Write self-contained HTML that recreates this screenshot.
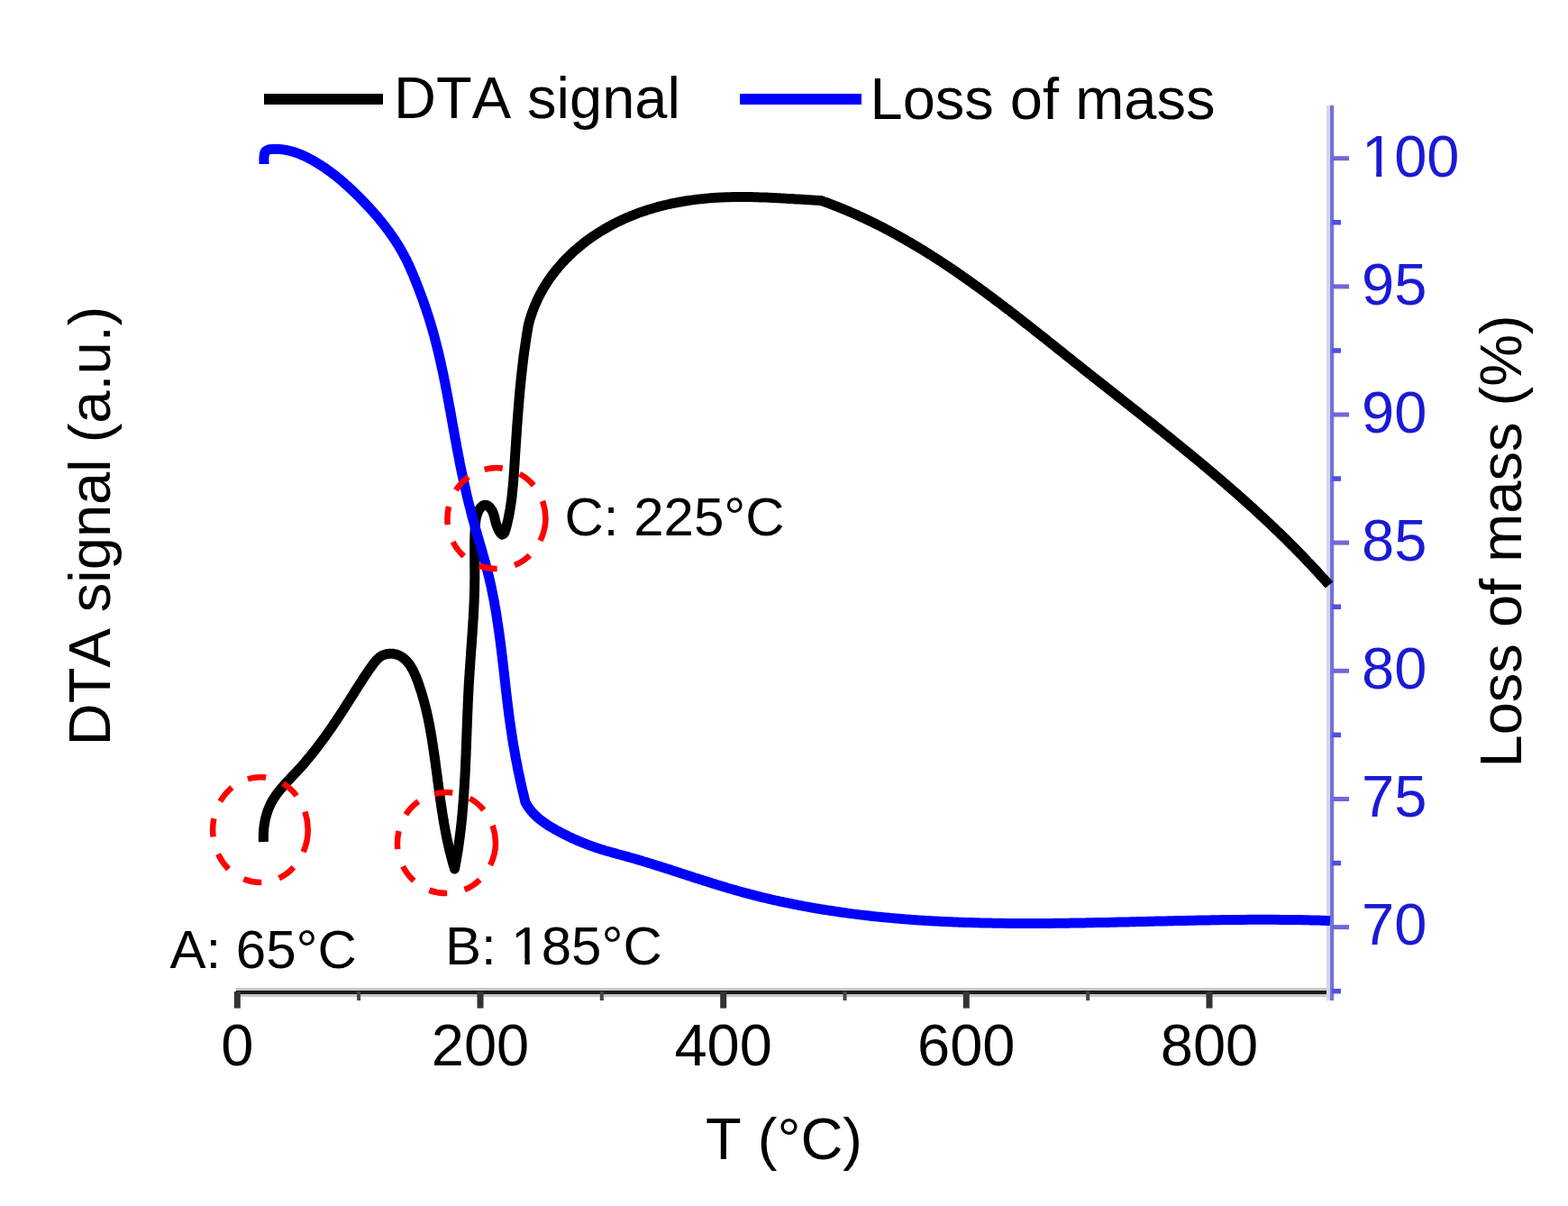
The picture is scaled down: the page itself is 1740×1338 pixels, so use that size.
<!DOCTYPE html><html><head><meta charset="utf-8"><style>html,body{margin:0;padding:0;background:#fff;}svg{display:block;} text{font-kerning:none;}</style></head><body>
<svg width="1740" height="1338" viewBox="0 0 1740 1338" font-family="'Liberation Sans', sans-serif">
<rect width="100%" height="100%" fill="#fff"/>
<rect x="293" y="104" width="132" height="12" fill="#000"/>
<text x="437" y="131.4" font-size="65" fill="#000">DTA signal</text>
<rect x="821" y="104" width="135" height="12" fill="#00f"/>
<text x="965.5" y="131.5" font-size="65" fill="#000">Loss of mass</text>
<rect x="262" y="1096" width="1216" height="10" fill="#c8c8c8"/>
<rect x="262" y="1099" width="1216" height="4" fill="#1c1c1c"/>
<rect x="259.8" y="1100" width="7" height="18.6" fill="#333"/>
<text x="263.3" y="1182" font-size="65" text-anchor="middle" fill="#000">0</text>
<rect x="396.1" y="1100" width="4" height="10" fill="#444"/>
<rect x="529.5" y="1100" width="7" height="18.6" fill="#333"/>
<text x="533.0" y="1182" font-size="65" text-anchor="middle" fill="#000">200</text>
<rect x="665.8" y="1100" width="4" height="10" fill="#444"/>
<rect x="799.2" y="1100" width="7" height="18.6" fill="#333"/>
<text x="802.7" y="1182" font-size="65" text-anchor="middle" fill="#000">400</text>
<rect x="935.5" y="1100" width="4" height="10" fill="#444"/>
<rect x="1068.8" y="1100" width="7" height="18.6" fill="#333"/>
<text x="1072.3" y="1182" font-size="65" text-anchor="middle" fill="#000">600</text>
<rect x="1205.2" y="1100" width="4" height="10" fill="#444"/>
<rect x="1338.5" y="1100" width="7" height="18.6" fill="#333"/>
<text x="1342.0" y="1182" font-size="65" text-anchor="middle" fill="#000">800</text>
<rect x="1472" y="117" width="4" height="993" fill="#d4d4f6"/>
<rect x="1476" y="117" width="4.2" height="993" fill="#7373d3"/>
<rect x="1478" y="173.2" width="19" height="5" fill="#6f66dc"/>
<text x="1511" y="195.5" font-size="65" fill="#1a1ad6">100</text>
<rect x="1514.50" y="188.50" width="12.70" height="9.00" fill="#fff"/><rect x="1533.20" y="188.50" width="11.50" height="9.00" fill="#fff"/>
<rect x="1478" y="244.0" width="10" height="5.5" fill="#5050e0"/>
<rect x="1478" y="315.4" width="19" height="5" fill="#6f66dc"/>
<text x="1511" y="337.7" font-size="65" fill="#1a1ad6">95</text>

<rect x="1478" y="386.2" width="10" height="5.5" fill="#5050e0"/>
<rect x="1478" y="457.5" width="19" height="5" fill="#6f66dc"/>
<text x="1511" y="479.8" font-size="65" fill="#1a1ad6">90</text>

<rect x="1478" y="528.3" width="10" height="5.5" fill="#5050e0"/>
<rect x="1478" y="599.6" width="19" height="5" fill="#6f66dc"/>
<text x="1511" y="621.9" font-size="65" fill="#1a1ad6">85</text>

<rect x="1478" y="670.5" width="10" height="5.5" fill="#5050e0"/>
<rect x="1478" y="741.8" width="19" height="5" fill="#6f66dc"/>
<text x="1511" y="764.1" font-size="65" fill="#1a1ad6">80</text>

<rect x="1478" y="812.6" width="10" height="5.5" fill="#5050e0"/>
<rect x="1478" y="884.0" width="19" height="5" fill="#6f66dc"/>
<text x="1511" y="906.2" font-size="65" fill="#1a1ad6">75</text>

<rect x="1478" y="954.8" width="10" height="5.5" fill="#5050e0"/>
<rect x="1478" y="1026.1" width="19" height="5" fill="#6f66dc"/>
<text x="1511" y="1048.4" font-size="65" fill="#1a1ad6">70</text>

<rect x="1478" y="1096.9" width="10" height="5.5" fill="#5050e0"/>
<text x="870" y="1286" font-size="65" text-anchor="middle" fill="#000">T (°C)</text>
<text transform="translate(121.5,583.4) rotate(-90)" font-size="65" text-anchor="middle" fill="#000">DTA signal (a.u.)</text>
<text transform="translate(1687.5,600.4) rotate(-90)" font-size="65" text-anchor="middle" fill="#000">Loss of mass (%)</text>
<text x="188.5" y="1074" font-size="60" fill="#000">A: 65°C</text>
<text x="494" y="1070.3" font-size="60" fill="#000">B: 185°C</text>
<rect x="570.59" y="1063.84" width="11.72" height="8.31" fill="#fff"/><rect x="587.85" y="1063.84" width="10.62" height="8.31" fill="#fff"/>
<text x="626.5" y="594.4" font-size="60" fill="#000">C: 225°C</text>
<path d="M292.5,934.0 L292.4,932.0 L292.3,930.0 L292.3,928.0 L292.4,926.0 L292.4,924.0 L292.6,922.0 L292.7,920.0 L292.9,918.0 L293.2,916.0 L293.4,914.1 L293.8,912.1 L294.2,910.1 L294.6,908.2 L295.1,906.2 L295.6,904.3 L296.2,902.4 L296.8,900.5 L297.5,898.6 L298.2,896.7 L299.0,894.9 L299.8,893.1 L300.7,891.3 L301.6,889.5 L302.6,887.8 L303.7,886.1 L304.8,884.4 L305.9,882.7 L307.0,881.1 L308.2,879.5 L309.5,877.9 L310.7,876.4 L312.0,874.8 L313.3,873.3 L314.6,871.8 L315.9,870.3 L317.3,868.8 L318.6,867.3 L320.0,865.9 L321.4,864.4 L322.7,863.0 L324.1,861.5 L325.5,860.1 L326.9,858.6 L328.2,857.2 L329.6,855.7 L331.0,854.2 L332.3,852.8 L333.7,851.3 L335.0,849.8 L336.3,848.3 L337.6,846.8 L338.9,845.3 L340.2,843.7 L341.5,842.2 L342.8,840.7 L344.1,839.1 L345.3,837.6 L346.6,836.0 L347.8,834.4 L349.1,832.9 L350.3,831.3 L351.5,829.7 L352.7,828.1 L353.9,826.5 L355.1,824.9 L356.3,823.3 L357.5,821.7 L358.7,820.1 L359.9,818.5 L361.1,816.9 L362.2,815.2 L363.4,813.6 L364.5,812.0 L365.7,810.3 L366.8,808.7 L368.0,807.1 L369.1,805.4 L370.2,803.7 L371.3,802.1 L372.5,800.4 L373.6,798.8 L374.7,797.1 L375.8,795.4 L376.9,793.8 L378.0,792.1 L379.1,790.4 L380.2,788.7 L381.2,787.1 L382.3,785.4 L383.4,783.7 L384.5,782.0 L385.6,780.3 L386.6,778.6 L387.7,777.0 L388.8,775.3 L389.9,773.6 L390.9,771.9 L392.0,770.2 L393.1,768.5 L394.1,766.8 L395.2,765.1 L396.3,763.4 L397.3,761.7 L398.4,760.1 L399.5,758.4 L400.6,756.7 L401.7,755.0 L402.7,753.3 L403.8,751.7 L404.9,750.0 L406.1,748.3 L407.2,746.7 L408.3,745.0 L409.4,743.4 L410.6,741.7 L411.8,740.1 L412.9,738.5 L414.1,736.9 L415.3,735.3 L416.6,733.7 L417.9,732.2 L419.3,730.8 L420.8,729.5 L422.5,728.3 L424.2,727.3 L426.0,726.5 L427.9,725.9 L429.9,725.5 L431.9,725.3 L433.9,725.2 L435.9,725.3 L437.8,725.6 L439.8,726.1 L441.7,726.7 L443.5,727.5 L445.3,728.5 L447.0,729.6 L448.5,730.8 L450.0,732.1 L451.4,733.5 L452.7,735.1 L454.0,736.6 L455.1,738.3 L456.2,740.0 L457.2,741.7 L458.2,743.4 L459.1,745.2 L459.9,747.0 L460.7,748.9 L461.5,750.7 L462.2,752.6 L463.0,754.4 L463.7,756.3 L464.3,758.2 L465.0,760.1 L465.6,762.0 L466.2,763.9 L466.9,765.8 L467.5,767.7 L468.1,769.6 L468.6,771.5 L469.2,773.4 L469.7,775.4 L470.3,777.3 L470.8,779.2 L471.3,781.2 L471.8,783.1 L472.3,785.0 L472.8,787.0 L473.2,788.9 L473.7,790.9 L474.1,792.8 L474.6,794.8 L475.0,796.7 L475.4,798.7 L475.8,800.6 L476.2,802.6 L476.6,804.6 L476.9,806.5 L477.3,808.5 L477.6,810.5 L478.0,812.4 L478.3,814.4 L478.7,816.4 L479.0,818.4 L479.3,820.3 L479.6,822.3 L479.9,824.3 L480.2,826.3 L480.6,828.2 L480.8,830.2 L481.1,832.2 L481.4,834.2 L481.7,836.2 L482.0,838.1 L482.3,840.1 L482.6,842.1 L482.8,844.1 L483.1,846.1 L483.4,848.0 L483.6,850.0 L483.9,852.0 L484.2,854.0 L484.4,856.0 L484.7,858.0 L485.0,859.9 L485.2,861.9 L485.5,863.9 L485.7,865.9 L486.0,867.9 L486.3,869.9 L486.5,871.8 L486.8,873.8 L487.1,875.8 L487.3,877.8 L487.6,879.8 L487.9,881.7 L488.2,883.7 L488.4,885.7 L488.7,887.7 L489.0,889.7 L489.3,891.6 L489.6,893.6 L489.9,895.6 L490.2,897.6 L490.5,899.6 L490.8,901.5 L491.1,903.5 L491.4,905.5 L491.7,907.5 L492.1,909.4 L492.4,911.4 L492.7,913.4 L493.1,915.3 L493.4,917.3 L493.8,919.3 L494.2,921.3 L494.5,923.2 L494.9,925.2 L495.3,927.1 L495.7,929.1 L496.1,931.1 L496.5,933.0 L496.9,935.0 L497.4,936.9 L497.8,938.9 L498.3,940.8 L498.7,942.8 L499.2,944.7 L499.7,946.7 L500.2,948.6 L500.7,950.5 L501.2,952.5 L501.7,954.4 L502.2,956.3 L502.8,958.3 L503.3,960.2 L503.9,962.1 L504.5,964.0 L504.9,962.0 L505.3,960.1 L505.6,958.1 L506.0,956.1 L506.3,954.2 L506.7,952.2 L507.0,950.2 L507.3,948.2 L507.7,946.2 L508.0,944.3 L508.3,942.3 L508.6,940.3 L508.9,938.3 L509.2,936.3 L509.4,934.4 L509.7,932.4 L510.0,930.4 L510.2,928.4 L510.5,926.4 L510.7,924.4 L511.0,922.4 L511.2,920.4 L511.4,918.5 L511.6,916.5 L511.9,914.5 L512.1,912.5 L512.3,910.5 L512.5,908.5 L512.7,906.5 L512.9,904.5 L513.1,902.5 L513.2,900.5 L513.4,898.5 L513.6,896.5 L513.7,894.5 L513.9,892.5 L514.1,890.5 L514.2,888.5 L514.4,886.5 L514.5,884.5 L514.6,882.5 L514.8,880.5 L514.9,878.5 L515.0,876.5 L515.2,874.5 L515.3,872.5 L515.4,870.5 L515.5,868.5 L515.6,866.5 L515.8,864.5 L515.9,862.5 L516.0,860.5 L516.1,858.5 L516.2,856.5 L516.3,854.5 L516.4,852.5 L516.5,850.5 L516.5,848.5 L516.6,846.5 L516.7,844.5 L516.8,842.5 L516.9,840.5 L517.0,838.5 L517.1,836.5 L517.1,834.5 L517.2,832.5 L517.3,830.5 L517.4,828.5 L517.4,826.5 L517.5,824.5 L517.6,822.5 L517.7,820.5 L517.7,818.5 L517.8,816.5 L517.9,814.5 L518.0,812.5 L518.0,810.5 L518.1,808.5 L518.2,806.5 L518.3,804.5 L518.3,802.5 L518.4,800.5 L518.5,798.5 L518.6,796.5 L518.6,794.5 L518.7,792.5 L518.8,790.5 L518.9,788.5 L519.0,786.4 L519.1,784.4 L519.1,782.4 L519.2,780.4 L519.3,778.4 L519.4,776.4 L519.5,774.4 L519.6,772.4 L519.7,770.4 L519.8,768.4 L519.9,766.4 L520.0,764.4 L520.1,762.4 L520.2,760.4 L520.3,758.4 L520.5,756.4 L520.6,754.4 L520.7,752.4 L520.8,750.4 L521.0,748.4 L521.1,746.4 L521.2,744.4 L521.4,742.4 L521.5,740.4 L521.6,738.4 L521.8,736.4 L521.9,734.4 L522.0,732.4 L522.2,730.4 L522.3,728.4 L522.5,726.4 L522.6,724.4 L522.7,722.4 L522.9,720.4 L523.0,718.4 L523.2,716.4 L523.3,714.4 L523.5,712.4 L523.6,710.5 L523.7,708.5 L523.9,706.5 L524.0,704.5 L524.1,702.5 L524.3,700.5 L524.4,698.5 L524.5,696.5 L524.7,694.5 L524.8,692.5 L524.9,690.5 L525.0,688.5 L525.2,686.5 L525.3,684.5 L525.4,682.5 L525.5,680.5 L525.6,678.5 L525.7,676.5 L525.8,674.5 L525.9,672.4 L526.0,670.4 L526.1,668.4 L526.2,666.4 L526.2,664.4 L526.3,662.4 L526.4,660.4 L526.4,658.4 L526.5,656.4 L526.6,654.4 L526.6,652.4 L526.6,650.4 L526.7,648.4 L526.7,646.4 L526.7,644.4 L526.8,642.4 L526.8,640.4 L526.8,638.4 L526.8,636.4 L526.8,634.4 L526.8,632.4 L526.8,630.4 L526.7,628.4 L526.7,626.4 L526.7,624.4 L526.7,622.4 L526.7,620.4 L526.7,618.4 L526.6,616.4 L526.6,614.4 L526.6,612.4 L526.6,610.3 L526.6,608.3 L526.6,606.3 L526.6,604.3 L526.7,602.3 L526.7,600.3 L526.7,598.3 L526.8,596.3 L526.8,594.3 L526.9,592.3 L527.0,590.3 L527.1,588.3 L527.2,586.3 L527.3,584.3 L527.4,582.3 L527.6,580.3 L527.8,578.3 L528.1,576.3 L528.4,574.4 L528.9,572.4 L529.5,570.5 L530.2,568.6 L531.0,566.8 L532.0,565.1 L533.2,563.4 L534.5,562.0 L536.2,560.8 L538.1,560.2 L540.0,560.5 L541.8,561.4 L543.3,562.7 L544.6,564.3 L545.7,565.9 L546.7,567.7 L547.4,569.5 L548.0,571.4 L548.6,573.4 L549.0,575.3 L549.5,577.3 L550.0,579.2 L550.5,581.1 L551.2,583.0 L551.9,584.9 L552.7,586.8 L553.6,588.6 L554.6,590.3 L555.8,591.9 L557.3,593.1 L559.0,592.3 L560.0,590.6 L560.7,588.7 L561.2,586.8 L561.8,584.8 L562.3,582.9 L562.8,581.0 L563.2,579.0 L563.7,577.0 L564.1,575.1 L564.5,573.1 L564.9,571.2 L565.3,569.2 L565.6,567.2 L566.0,565.3 L566.3,563.3 L566.6,561.3 L566.9,559.3 L567.2,557.3 L567.5,555.3 L567.7,553.4 L568.0,551.4 L568.2,549.4 L568.4,547.4 L568.6,545.4 L568.8,543.4 L569.0,541.4 L569.2,539.4 L569.4,537.4 L569.5,535.4 L569.7,533.4 L569.8,531.4 L570.0,529.4 L570.1,527.4 L570.3,525.4 L570.4,523.4 L570.6,521.4 L570.7,519.4 L570.8,517.4 L571.0,515.4 L571.1,513.4 L571.2,511.4 L571.3,509.4 L571.5,507.4 L571.6,505.4 L571.7,503.4 L571.9,501.4 L572.0,499.4 L572.1,497.4 L572.3,495.4 L572.4,493.4 L572.5,491.4 L572.7,489.4 L572.8,487.4 L572.9,485.4 L573.1,483.4 L573.2,481.4 L573.3,479.4 L573.5,477.4 L573.6,475.4 L573.7,473.4 L573.9,471.4 L574.0,469.4 L574.2,467.4 L574.3,465.4 L574.5,463.5 L574.6,461.5 L574.8,459.5 L574.9,457.5 L575.1,455.5 L575.2,453.5 L575.4,451.5 L575.6,449.5 L575.7,447.5 L575.9,445.5 L576.0,443.5 L576.2,441.5 L576.4,439.5 L576.6,437.5 L576.7,435.5 L576.9,433.5 L577.1,431.5 L577.3,429.5 L577.5,427.5 L577.7,425.5 L577.9,423.5 L578.1,421.5 L578.3,419.5 L578.5,417.5 L578.7,415.5 L578.9,413.6 L579.1,411.6 L579.4,409.6 L579.6,407.6 L579.8,405.6 L580.1,403.6 L580.3,401.6 L580.5,399.6 L580.8,397.6 L581.0,395.6 L581.3,393.7 L581.6,391.7 L581.8,389.7 L582.1,387.7 L582.4,385.7 L582.7,383.7 L583.0,381.8 L583.3,379.8 L583.6,377.8 L583.9,375.8 L584.2,373.8 L584.5,371.9 L584.8,369.9 L585.1,367.9 L585.5,365.9 L585.8,363.9 L586.1,362.0 L586.5,360.0 L587.0,358.1 L587.5,356.1 L588.1,354.2 L588.7,352.3 L589.3,350.4 L589.9,348.5 L590.6,346.6 L591.3,344.7 L592.0,342.8 L592.7,340.9 L593.5,339.1 L594.3,337.2 L595.1,335.4 L595.9,333.6 L596.7,331.7 L597.6,329.9 L598.5,328.2 L599.4,326.4 L600.4,324.6 L601.4,322.8 L602.3,321.1 L603.4,319.4 L604.4,317.6 L605.4,315.9 L606.5,314.2 L607.6,312.6 L608.7,310.9 L609.9,309.2 L611.0,307.6 L612.2,306.0 L613.4,304.4 L614.6,302.8 L615.9,301.2 L617.1,299.6 L618.4,298.1 L619.7,296.5 L621.0,295.0 L622.3,293.5 L623.6,292.0 L625.0,290.5 L626.4,289.1 L627.8,287.6 L629.2,286.2 L630.6,284.8 L632.0,283.4 L633.5,282.0 L634.9,280.6 L636.4,279.2 L637.9,277.9 L639.4,276.6 L640.9,275.3 L642.5,274.0 L644.0,272.7 L645.6,271.4 L647.1,270.2 L648.7,269.0 L650.3,267.7 L651.9,266.5 L653.6,265.4 L655.2,264.2 L656.8,263.0 L658.5,261.9 L660.2,260.8 L661.8,259.7 L663.5,258.6 L665.2,257.5 L666.9,256.4 L668.6,255.4 L670.3,254.4 L672.1,253.4 L673.8,252.4 L675.6,251.4 L677.3,250.4 L679.1,249.5 L680.9,248.5 L682.7,247.6 L684.5,246.7 L686.3,245.8 L688.1,245.0 L689.9,244.1 L691.7,243.3 L693.5,242.4 L695.4,241.6 L697.2,240.8 L699.1,240.1 L700.9,239.3 L702.8,238.6 L704.7,237.8 L706.5,237.1 L708.4,236.4 L710.3,235.7 L712.2,235.1 L714.1,234.4 L716.0,233.8 L717.9,233.2 L719.8,232.5 L721.7,232.0 L723.6,231.4 L725.6,230.8 L727.5,230.3 L729.4,229.7 L731.4,229.2 L733.3,228.7 L735.3,228.2 L737.2,227.7 L739.2,227.3 L741.1,226.8 L743.1,226.4 L745.0,225.9 L747.0,225.5 L749.0,225.1 L750.9,224.8 L752.9,224.4 L754.9,224.0 L756.9,223.7 L758.8,223.3 L760.8,223.0 L762.8,222.7 L764.8,222.4 L766.8,222.1 L768.8,221.9 L770.8,221.6 L772.7,221.3 L774.7,221.1 L776.7,220.9 L778.7,220.7 L780.7,220.5 L782.7,220.3 L784.7,220.1 L786.7,219.9 L788.7,219.7 L790.7,219.6 L792.7,219.5 L794.7,219.3 L796.7,219.2 L798.7,219.1 L800.7,219.0 L802.7,218.9 L804.7,218.8 L806.8,218.8 L808.8,218.7 L810.8,218.7 L812.8,218.6 L814.8,218.6 L816.8,218.5 L818.8,218.5 L820.8,218.5 L822.8,218.5 L824.8,218.5 L826.8,218.5 L828.8,218.6 L830.8,218.6 L832.8,218.6 L834.8,218.6 L836.8,218.7 L838.9,218.7 L840.9,218.8 L842.9,218.9 L844.9,218.9 L846.9,219.0 L848.9,219.1 L850.9,219.1 L852.9,219.2 L854.9,219.3 L856.9,219.4 L858.9,219.5 L860.9,219.6 L862.9,219.7 L864.9,219.8 L866.9,219.9 L868.9,220.0 L870.9,220.1 L872.9,220.3 L874.9,220.4 L876.9,220.5 L878.9,220.6 L880.9,220.7 L883.0,220.9 L885.0,221.0 L887.0,221.1 L889.0,221.2 L891.0,221.3 L893.0,221.5 L895.0,221.6 L897.0,221.7 L899.0,221.8 L901.0,221.9 L903.0,222.1 L905.0,222.2 L907.0,222.3 L909.0,222.4 L911.0,222.5 L912.9,223.2 L914.8,223.9 L916.7,224.5 L918.5,225.2 L920.4,225.9 L922.3,226.6 L924.2,227.4 L926.0,228.1 L927.9,228.8 L929.8,229.5 L931.6,230.3 L933.5,231.0 L935.3,231.8 L937.2,232.6 L939.0,233.3 L940.9,234.1 L942.7,234.9 L944.6,235.7 L946.4,236.5 L948.2,237.3 L950.1,238.1 L951.9,238.9 L953.7,239.8 L955.5,240.6 L957.4,241.4 L959.2,242.3 L961.0,243.1 L962.8,244.0 L964.6,244.9 L966.4,245.7 L968.2,246.6 L970.0,247.5 L971.8,248.4 L973.6,249.3 L975.4,250.2 L977.2,251.1 L979.0,252.0 L980.7,252.9 L982.5,253.9 L984.3,254.8 L986.1,255.7 L987.8,256.7 L989.6,257.6 L991.4,258.6 L993.1,259.5 L994.9,260.5 L996.6,261.5 L998.4,262.4 L1000.1,263.4 L1001.9,264.4 L1003.6,265.4 L1005.4,266.4 L1007.1,267.4 L1008.8,268.4 L1010.6,269.4 L1012.3,270.4 L1014.0,271.4 L1015.7,272.4 L1017.5,273.5 L1019.2,274.5 L1020.9,275.5 L1022.6,276.6 L1024.3,277.6 L1026.0,278.7 L1027.7,279.7 L1029.4,280.8 L1031.1,281.9 L1032.8,282.9 L1034.5,284.0 L1036.2,285.1 L1037.9,286.2 L1039.6,287.2 L1041.2,288.3 L1042.9,289.4 L1044.6,290.5 L1046.3,291.6 L1048.0,292.7 L1049.6,293.8 L1051.3,294.9 L1053.0,296.1 L1054.6,297.2 L1056.3,298.3 L1057.9,299.4 L1059.6,300.5 L1061.2,301.7 L1062.9,302.8 L1064.6,304.0 L1066.2,305.1 L1067.8,306.2 L1069.5,307.4 L1071.1,308.5 L1072.8,309.7 L1074.4,310.8 L1076.0,312.0 L1077.7,313.2 L1079.3,314.3 L1080.9,315.5 L1082.6,316.7 L1084.2,317.8 L1085.8,319.0 L1087.4,320.2 L1089.0,321.4 L1090.7,322.6 L1092.3,323.7 L1093.9,324.9 L1095.5,326.1 L1097.1,327.3 L1098.7,328.5 L1100.3,329.7 L1101.9,330.9 L1103.5,332.1 L1105.1,333.3 L1106.7,334.5 L1108.3,335.7 L1109.9,336.9 L1111.5,338.1 L1113.1,339.3 L1114.7,340.6 L1116.3,341.8 L1117.9,343.0 L1119.5,344.2 L1121.1,345.4 L1122.7,346.7 L1124.3,347.9 L1125.9,349.1 L1127.4,350.3 L1129.0,351.6 L1130.6,352.8 L1132.2,354.0 L1133.8,355.3 L1135.3,356.5 L1136.9,357.7 L1138.5,359.0 L1140.1,360.2 L1141.7,361.4 L1143.2,362.7 L1144.8,363.9 L1146.4,365.1 L1148.0,366.4 L1149.5,367.6 L1151.1,368.9 L1152.7,370.1 L1154.2,371.4 L1155.8,372.6 L1157.4,373.8 L1159.0,375.1 L1160.5,376.3 L1162.1,377.6 L1163.7,378.8 L1165.2,380.1 L1166.8,381.3 L1168.4,382.6 L1169.9,383.8 L1171.5,385.1 L1173.1,386.3 L1174.6,387.6 L1176.2,388.8 L1177.8,390.1 L1179.3,391.3 L1180.9,392.6 L1182.5,393.8 L1184.0,395.1 L1185.6,396.3 L1187.2,397.6 L1188.7,398.8 L1190.3,400.1 L1191.9,401.3 L1193.4,402.6 L1195.0,403.8 L1196.6,405.1 L1198.1,406.3 L1199.7,407.6 L1201.3,408.8 L1202.8,410.1 L1204.4,411.3 L1206.0,412.5 L1207.5,413.8 L1209.1,415.0 L1210.7,416.3 L1212.3,417.5 L1213.8,418.8 L1215.4,420.0 L1217.0,421.3 L1218.5,422.5 L1220.1,423.7 L1221.7,425.0 L1223.3,426.2 L1224.8,427.5 L1226.4,428.7 L1228.0,429.9 L1229.6,431.2 L1231.1,432.4 L1232.7,433.7 L1234.3,434.9 L1235.9,436.1 L1237.4,437.4 L1239.0,438.6 L1240.6,439.9 L1242.2,441.1 L1243.7,442.3 L1245.3,443.6 L1246.9,444.8 L1248.4,446.1 L1250.0,447.3 L1251.6,448.5 L1253.2,449.8 L1254.7,451.0 L1256.3,452.3 L1257.9,453.5 L1259.5,454.8 L1261.0,456.0 L1262.6,457.2 L1264.2,458.5 L1265.7,459.7 L1267.3,461.0 L1268.9,462.2 L1270.5,463.5 L1272.0,464.7 L1273.6,466.0 L1275.2,467.2 L1276.7,468.4 L1278.3,469.7 L1279.9,470.9 L1281.4,472.2 L1283.0,473.4 L1284.6,474.7 L1286.1,475.9 L1287.7,477.2 L1289.3,478.4 L1290.8,479.7 L1292.4,481.0 L1294.0,482.2 L1295.5,483.5 L1297.1,484.7 L1298.6,486.0 L1300.2,487.2 L1301.8,488.5 L1303.3,489.7 L1304.9,491.0 L1306.4,492.3 L1308.0,493.5 L1309.5,494.8 L1311.1,496.1 L1312.7,497.3 L1314.2,498.6 L1315.8,499.9 L1317.3,501.1 L1318.9,502.4 L1320.4,503.7 L1322.0,504.9 L1323.5,506.2 L1325.1,507.5 L1326.6,508.8 L1328.1,510.0 L1329.7,511.3 L1331.2,512.6 L1332.8,513.9 L1334.3,515.2 L1335.8,516.4 L1337.4,517.7 L1338.9,519.0 L1340.5,520.3 L1342.0,521.6 L1343.5,522.9 L1345.1,524.2 L1346.6,525.5 L1348.1,526.8 L1349.6,528.1 L1351.2,529.4 L1352.7,530.7 L1354.2,532.0 L1355.7,533.3 L1357.3,534.6 L1358.8,535.9 L1360.3,537.2 L1361.8,538.5 L1363.3,539.8 L1364.8,541.1 L1366.4,542.4 L1367.9,543.8 L1369.4,545.1 L1370.9,546.4 L1372.4,547.7 L1373.9,549.0 L1375.4,550.4 L1376.9,551.7 L1378.4,553.0 L1379.9,554.4 L1381.4,555.7 L1382.9,557.0 L1384.4,558.4 L1385.9,559.7 L1387.3,561.1 L1388.8,562.4 L1390.3,563.7 L1391.8,565.1 L1393.3,566.4 L1394.8,567.8 L1396.2,569.2 L1397.7,570.5 L1399.2,571.9 L1400.6,573.2 L1402.1,574.6 L1403.6,576.0 L1405.0,577.3 L1406.5,578.7 L1408.0,580.1 L1409.4,581.4 L1410.9,582.8 L1412.3,584.2 L1413.8,585.6 L1415.2,587.0 L1416.7,588.4 L1418.1,589.7 L1419.6,591.1 L1421.0,592.5 L1422.4,593.9 L1423.9,595.3 L1425.3,596.7 L1426.7,598.1 L1428.2,599.5 L1429.6,601.0 L1431.0,602.4 L1432.4,603.8 L1433.8,605.2 L1435.2,606.6 L1436.7,608.0 L1438.1,609.5 L1439.5,610.9 L1440.9,612.3 L1442.3,613.8 L1443.7,615.2 L1445.1,616.6 L1446.5,618.1 L1447.9,619.5 L1449.2,621.0 L1450.6,622.4 L1452.0,623.9 L1453.4,625.3 L1454.8,626.8 L1456.1,628.2 L1457.5,629.7 L1458.9,631.2 L1460.2,632.6 L1461.6,634.1 L1462.9,635.6 L1464.3,637.1 L1465.6,638.6 L1467.0,640.0 L1468.3,641.5 L1469.7,643.0 L1471.0,644.5 L1472.3,646.0 L1473.7,647.5 L1475.0,649.0" fill="none" stroke="#000" stroke-width="11" stroke-linejoin="round" stroke-linecap="butt"/>
<path d="M293.0,182.0 L293.0,179.9 L292.9,177.7 L292.9,175.6 L293.1,173.4 L293.3,171.3 L293.9,169.2 L295.0,167.4 L297.0,166.5 L299.0,165.8 L301.0,165.6 L303.0,165.5 L305.0,165.4 L307.0,165.4 L309.0,165.5 L311.0,165.6 L313.0,165.8 L315.0,166.1 L317.0,166.4 L318.9,166.8 L320.9,167.2 L322.8,167.7 L324.8,168.2 L326.7,168.8 L328.6,169.4 L330.5,170.1 L332.3,170.8 L334.2,171.6 L336.0,172.4 L337.9,173.2 L339.7,174.0 L341.5,174.9 L343.2,175.9 L345.0,176.8 L346.8,177.8 L348.5,178.8 L350.2,179.8 L352.0,180.8 L353.7,181.9 L355.4,182.9 L357.0,184.0 L358.7,185.1 L360.4,186.2 L362.0,187.4 L363.6,188.5 L365.3,189.7 L366.9,190.9 L368.5,192.1 L370.1,193.3 L371.7,194.6 L373.2,195.8 L374.8,197.1 L376.3,198.3 L377.9,199.6 L379.4,200.9 L380.9,202.2 L382.4,203.5 L383.9,204.8 L385.4,206.2 L386.9,207.5 L388.4,208.9 L389.9,210.3 L391.3,211.6 L392.8,213.0 L394.2,214.4 L395.6,215.8 L397.1,217.2 L398.5,218.6 L399.9,220.1 L401.3,221.5 L402.7,222.9 L404.1,224.4 L405.5,225.8 L406.8,227.3 L408.2,228.7 L409.6,230.2 L410.9,231.7 L412.3,233.2 L413.6,234.7 L414.9,236.2 L416.2,237.7 L417.6,239.2 L418.9,240.7 L420.2,242.2 L421.4,243.8 L422.7,245.3 L424.0,246.9 L425.2,248.5 L426.5,250.0 L427.7,251.6 L428.9,253.2 L430.1,254.8 L431.3,256.4 L432.5,258.0 L433.6,259.7 L434.8,261.3 L435.9,263.0 L437.1,264.6 L438.2,266.3 L439.3,268.0 L440.3,269.6 L441.4,271.3 L442.5,273.0 L443.5,274.8 L444.5,276.5 L445.5,278.2 L446.5,280.0 L447.5,281.7 L448.4,283.5 L449.3,285.3 L450.3,287.0 L451.2,288.8 L452.0,290.6 L452.9,292.4 L453.8,294.3 L454.6,296.1 L455.4,297.9 L456.2,299.7 L457.0,301.6 L457.8,303.4 L458.6,305.3 L459.3,307.1 L460.1,309.0 L460.9,310.8 L461.6,312.7 L462.3,314.6 L463.1,316.4 L463.8,318.3 L464.5,320.2 L465.2,322.0 L465.9,323.9 L466.6,325.8 L467.3,327.7 L468.0,329.5 L468.7,331.4 L469.4,333.3 L470.1,335.2 L470.7,337.1 L471.4,339.0 L472.0,340.9 L472.7,342.8 L473.3,344.7 L473.9,346.6 L474.6,348.5 L475.2,350.4 L475.8,352.3 L476.4,354.2 L477.0,356.1 L477.6,358.0 L478.1,360.0 L478.7,361.9 L479.3,363.8 L479.8,365.7 L480.4,367.7 L480.9,369.6 L481.5,371.5 L482.0,373.5 L482.5,375.4 L483.0,377.3 L483.5,379.3 L484.0,381.2 L484.5,383.1 L485.0,385.1 L485.5,387.0 L486.0,389.0 L486.4,390.9 L486.9,392.9 L487.4,394.8 L487.8,396.8 L488.3,398.7 L488.7,400.7 L489.1,402.6 L489.6,404.6 L490.0,406.6 L490.4,408.5 L490.8,410.5 L491.3,412.4 L491.7,414.4 L492.1,416.4 L492.5,418.3 L492.9,420.3 L493.3,422.2 L493.7,424.2 L494.1,426.2 L494.4,428.1 L494.8,430.1 L495.2,432.1 L495.6,434.0 L496.0,436.0 L496.3,438.0 L496.7,439.9 L497.1,441.9 L497.4,443.9 L497.8,445.9 L498.2,447.8 L498.5,449.8 L498.9,451.8 L499.2,453.7 L499.6,455.7 L500.0,457.7 L500.3,459.7 L500.7,461.6 L501.0,463.6 L501.4,465.6 L501.7,467.5 L502.1,469.5 L502.4,471.5 L502.8,473.5 L503.1,475.4 L503.5,477.4 L503.9,479.4 L504.2,481.3 L504.6,483.3 L504.9,485.3 L505.3,487.3 L505.7,489.2 L506.0,491.2 L506.4,493.2 L506.7,495.1 L507.1,497.1 L507.5,499.1 L507.9,501.1 L508.2,503.0 L508.6,505.0 L509.0,507.0 L509.4,508.9 L509.8,510.9 L510.1,512.9 L510.5,514.8 L510.9,516.8 L511.3,518.7 L511.7,520.7 L512.1,522.7 L512.5,524.6 L513.0,526.6 L513.4,528.6 L513.8,530.5 L514.2,532.5 L514.7,534.4 L515.1,536.4 L515.5,538.3 L516.0,540.3 L516.4,542.2 L516.9,544.2 L517.3,546.2 L517.8,548.1 L518.2,550.1 L518.7,552.0 L519.2,554.0 L519.6,555.9 L520.1,557.8 L520.6,559.8 L521.1,561.7 L521.6,563.7 L522.1,565.6 L522.6,567.6 L523.1,569.5 L523.6,571.4 L524.1,573.4 L524.6,575.3 L525.1,577.2 L525.7,579.2 L526.2,581.1 L526.7,583.0 L527.3,585.0 L527.8,586.9 L528.4,588.8 L528.9,590.7 L529.5,592.7 L530.0,594.6 L530.6,596.5 L531.1,598.5 L531.7,600.4 L532.2,602.3 L532.8,604.2 L533.4,606.2 L533.9,608.1 L534.5,610.0 L535.0,611.9 L535.6,613.9 L536.1,615.8 L536.7,617.7 L537.2,619.6 L537.7,621.6 L538.3,623.5 L538.8,625.4 L539.3,627.4 L539.8,629.3 L540.3,631.2 L540.8,633.2 L541.3,635.1 L541.8,637.1 L542.3,639.0 L542.8,641.0 L543.2,642.9 L543.7,644.9 L544.1,646.8 L544.6,648.8 L545.0,650.7 L545.4,652.7 L545.8,654.7 L546.2,656.6 L546.6,658.6 L547.0,660.5 L547.4,662.5 L547.8,664.5 L548.2,666.4 L548.5,668.4 L548.9,670.4 L549.2,672.4 L549.6,674.3 L549.9,676.3 L550.3,678.3 L550.6,680.3 L550.9,682.2 L551.2,684.2 L551.5,686.2 L551.8,688.2 L552.1,690.2 L552.4,692.1 L552.7,694.1 L553.0,696.1 L553.3,698.1 L553.6,700.1 L553.9,702.1 L554.1,704.0 L554.4,706.0 L554.7,708.0 L554.9,710.0 L555.2,712.0 L555.4,714.0 L555.7,716.0 L555.9,717.9 L556.2,719.9 L556.4,721.9 L556.7,723.9 L556.9,725.9 L557.2,727.9 L557.4,729.9 L557.6,731.9 L557.9,733.9 L558.1,735.9 L558.3,737.8 L558.6,739.8 L558.8,741.8 L559.0,743.8 L559.2,745.8 L559.5,747.8 L559.7,749.8 L559.9,751.8 L560.1,753.8 L560.4,755.8 L560.6,757.8 L560.8,759.7 L561.0,761.7 L561.3,763.7 L561.5,765.7 L561.7,767.7 L562.0,769.7 L562.2,771.7 L562.4,773.7 L562.7,775.7 L562.9,777.7 L563.1,779.6 L563.4,781.6 L563.6,783.6 L563.9,785.6 L564.1,787.6 L564.4,789.6 L564.6,791.6 L564.9,793.6 L565.1,795.5 L565.4,797.5 L565.7,799.5 L565.9,801.5 L566.2,803.5 L566.5,805.5 L566.8,807.5 L567.1,809.4 L567.4,811.4 L567.7,813.4 L568.0,815.4 L568.3,817.4 L568.6,819.3 L568.9,821.3 L569.2,823.3 L569.5,825.3 L569.9,827.3 L570.2,829.2 L570.6,831.2 L570.9,833.2 L571.3,835.2 L571.6,837.1 L572.0,839.1 L572.3,841.1 L572.7,843.0 L573.1,845.0 L573.5,847.0 L573.9,848.9 L574.2,850.9 L574.6,852.9 L575.0,854.8 L575.4,856.8 L575.9,858.7 L576.3,860.7 L576.7,862.7 L577.1,864.6 L577.5,866.6 L578.0,868.5 L578.4,870.5 L578.8,872.5 L579.3,874.4 L579.7,876.4 L580.2,878.3 L580.7,880.3 L581.1,882.2 L581.6,884.2 L582.0,886.1 L582.5,888.1 L583.0,890.0 L584.0,891.8 L585.0,893.5 L586.1,895.2 L587.2,896.8 L588.4,898.4 L589.7,900.0 L591.0,901.5 L592.3,902.9 L593.7,904.3 L595.2,905.7 L596.7,907.1 L598.2,908.4 L599.8,909.6 L601.4,910.8 L603.0,912.0 L604.6,913.1 L606.3,914.3 L607.9,915.4 L609.6,916.4 L611.3,917.5 L613.1,918.5 L614.8,919.5 L616.5,920.5 L618.3,921.5 L620.0,922.4 L621.8,923.4 L623.6,924.3 L625.3,925.2 L627.1,926.1 L628.9,927.0 L630.7,927.9 L632.5,928.8 L634.3,929.6 L636.1,930.5 L638.0,931.3 L639.8,932.1 L641.6,932.9 L643.5,933.7 L645.3,934.4 L647.2,935.2 L649.0,935.9 L650.9,936.6 L652.8,937.4 L654.6,938.1 L656.5,938.7 L658.4,939.4 L660.3,940.1 L662.2,940.7 L664.1,941.3 L666.0,941.9 L667.9,942.5 L669.8,943.1 L671.7,943.7 L673.6,944.2 L675.6,944.8 L677.5,945.3 L679.4,945.9 L681.4,946.4 L683.3,946.9 L685.2,947.5 L687.1,948.0 L689.1,948.5 L691.0,949.0 L692.9,949.6 L694.9,950.1 L696.8,950.6 L698.7,951.2 L700.6,951.7 L702.6,952.3 L704.5,952.8 L706.4,953.4 L708.3,953.9 L710.2,954.5 L712.2,955.1 L714.1,955.7 L716.0,956.2 L717.9,956.8 L719.8,957.4 L721.7,958.0 L723.6,958.6 L725.5,959.2 L727.4,959.8 L729.4,960.4 L731.3,961.0 L733.2,961.6 L735.1,962.2 L737.0,962.8 L738.9,963.4 L740.8,964.0 L742.7,964.6 L744.6,965.2 L746.5,965.9 L748.4,966.5 L750.3,967.1 L752.2,967.7 L754.1,968.3 L756.0,968.9 L757.9,969.6 L759.8,970.2 L761.7,970.8 L763.6,971.4 L765.5,972.0 L767.4,972.6 L769.3,973.3 L771.2,973.9 L773.1,974.5 L775.0,975.1 L777.0,975.7 L778.9,976.3 L780.8,976.9 L782.7,977.5 L784.6,978.1 L786.5,978.7 L788.4,979.3 L790.3,979.9 L792.2,980.5 L794.1,981.1 L796.0,981.7 L797.9,982.3 L799.9,982.9 L801.8,983.4 L803.7,984.0 L805.6,984.6 L807.5,985.2 L809.4,985.7 L811.4,986.3 L813.3,986.8 L815.2,987.4 L817.1,987.9 L819.1,988.5 L821.0,989.0 L822.9,989.6 L824.8,990.1 L826.8,990.6 L828.7,991.1 L830.6,991.6 L832.6,992.1 L834.5,992.6 L836.4,993.1 L838.4,993.6 L840.3,994.1 L842.3,994.6 L844.2,995.1 L846.1,995.6 L848.1,996.0 L850.0,996.5 L852.0,997.0 L853.9,997.4 L855.9,997.9 L857.8,998.3 L859.8,998.8 L861.7,999.2 L863.7,999.6 L865.6,1000.1 L867.6,1000.5 L869.5,1000.9 L871.5,1001.3 L873.5,1001.7 L875.4,1002.1 L877.4,1002.5 L879.3,1002.9 L881.3,1003.3 L883.3,1003.7 L885.2,1004.1 L887.2,1004.5 L889.2,1004.8 L891.1,1005.2 L893.1,1005.6 L895.1,1005.9 L897.0,1006.3 L899.0,1006.6 L901.0,1007.0 L902.9,1007.3 L904.9,1007.7 L906.9,1008.0 L908.8,1008.3 L910.8,1008.7 L912.8,1009.0 L914.8,1009.3 L916.7,1009.6 L918.7,1009.9 L920.7,1010.2 L922.7,1010.5 L924.7,1010.8 L926.6,1011.1 L928.6,1011.4 L930.6,1011.7 L932.6,1012.0 L934.5,1012.3 L936.5,1012.6 L938.5,1012.8 L940.5,1013.1 L942.5,1013.4 L944.5,1013.6 L946.4,1013.9 L948.4,1014.1 L950.4,1014.4 L952.4,1014.6 L954.4,1014.9 L956.4,1015.1 L958.4,1015.3 L960.3,1015.6 L962.3,1015.8 L964.3,1016.0 L966.3,1016.2 L968.3,1016.5 L970.3,1016.7 L972.3,1016.9 L974.3,1017.1 L976.2,1017.3 L978.2,1017.5 L980.2,1017.7 L982.2,1017.9 L984.2,1018.1 L986.2,1018.2 L988.2,1018.4 L990.2,1018.6 L992.2,1018.8 L994.2,1019.0 L996.2,1019.1 L998.2,1019.3 L1000.2,1019.5 L1002.1,1019.6 L1004.1,1019.8 L1006.1,1019.9 L1008.1,1020.1 L1010.1,1020.2 L1012.1,1020.4 L1014.1,1020.5 L1016.1,1020.7 L1018.1,1020.8 L1020.1,1020.9 L1022.1,1021.1 L1024.1,1021.2 L1026.1,1021.3 L1028.1,1021.4 L1030.1,1021.5 L1032.1,1021.7 L1034.1,1021.8 L1036.1,1021.9 L1038.1,1022.0 L1040.1,1022.1 L1042.1,1022.2 L1044.1,1022.3 L1046.1,1022.4 L1048.1,1022.5 L1050.1,1022.6 L1052.1,1022.7 L1054.1,1022.8 L1056.0,1022.8 L1058.0,1022.9 L1060.0,1023.0 L1062.0,1023.1 L1064.0,1023.2 L1066.0,1023.2 L1068.0,1023.3 L1070.0,1023.4 L1072.0,1023.4 L1074.0,1023.5 L1076.0,1023.6 L1078.0,1023.6 L1080.0,1023.7 L1082.0,1023.7 L1084.0,1023.8 L1086.0,1023.8 L1088.0,1023.9 L1090.0,1023.9 L1092.0,1024.0 L1094.0,1024.0 L1096.0,1024.1 L1098.0,1024.1 L1100.0,1024.1 L1102.0,1024.2 L1104.0,1024.2 L1106.0,1024.2 L1108.0,1024.3 L1110.0,1024.3 L1112.0,1024.3 L1114.0,1024.3 L1116.0,1024.4 L1118.0,1024.4 L1120.0,1024.4 L1122.0,1024.4 L1124.0,1024.4 L1126.0,1024.4 L1128.0,1024.4 L1130.0,1024.5 L1132.0,1024.5 L1134.0,1024.5 L1136.0,1024.5 L1138.0,1024.5 L1140.0,1024.5 L1142.0,1024.5 L1144.0,1024.5 L1146.0,1024.5 L1148.0,1024.5 L1150.0,1024.5 L1152.0,1024.5 L1154.0,1024.5 L1156.0,1024.4 L1158.0,1024.4 L1160.0,1024.4 L1162.0,1024.4 L1164.0,1024.4 L1166.0,1024.4 L1168.0,1024.4 L1170.0,1024.3 L1172.0,1024.3 L1174.0,1024.3 L1176.0,1024.3 L1178.0,1024.3 L1180.0,1024.2 L1182.0,1024.2 L1184.0,1024.2 L1186.0,1024.2 L1188.0,1024.1 L1190.0,1024.1 L1192.0,1024.1 L1194.0,1024.0 L1196.0,1024.0 L1198.0,1024.0 L1200.0,1023.9 L1202.0,1023.9 L1204.0,1023.9 L1206.0,1023.8 L1208.0,1023.8 L1210.0,1023.8 L1212.0,1023.7 L1214.0,1023.7 L1216.0,1023.6 L1218.0,1023.6 L1220.0,1023.6 L1222.0,1023.5 L1224.0,1023.5 L1226.0,1023.4 L1228.0,1023.4 L1230.0,1023.4 L1232.0,1023.3 L1234.0,1023.3 L1236.0,1023.2 L1238.0,1023.2 L1240.0,1023.1 L1242.0,1023.1 L1244.0,1023.0 L1246.0,1023.0 L1248.0,1023.0 L1250.0,1022.9 L1252.0,1022.9 L1254.0,1022.8 L1256.0,1022.8 L1258.0,1022.7 L1260.0,1022.7 L1262.0,1022.6 L1264.0,1022.6 L1266.0,1022.5 L1268.0,1022.5 L1270.0,1022.4 L1272.0,1022.4 L1274.0,1022.3 L1276.0,1022.3 L1278.0,1022.2 L1280.0,1022.2 L1282.0,1022.1 L1284.0,1022.1 L1286.0,1022.0 L1288.0,1022.0 L1290.0,1022.0 L1292.0,1021.9 L1294.0,1021.9 L1296.0,1021.8 L1298.0,1021.8 L1300.0,1021.7 L1302.0,1021.7 L1304.0,1021.6 L1306.0,1021.6 L1308.0,1021.5 L1310.0,1021.5 L1312.0,1021.5 L1314.0,1021.4 L1316.0,1021.4 L1318.0,1021.3 L1320.0,1021.3 L1322.0,1021.2 L1324.0,1021.2 L1326.0,1021.2 L1328.0,1021.1 L1330.0,1021.1 L1332.0,1021.0 L1334.0,1021.0 L1336.0,1021.0 L1338.0,1020.9 L1340.0,1020.9 L1342.0,1020.9 L1344.0,1020.8 L1346.0,1020.8 L1348.0,1020.8 L1350.0,1020.7 L1352.0,1020.7 L1354.0,1020.7 L1356.0,1020.6 L1358.0,1020.6 L1360.0,1020.6 L1362.0,1020.6 L1364.0,1020.5 L1366.0,1020.5 L1368.0,1020.5 L1370.0,1020.5 L1372.0,1020.4 L1374.0,1020.4 L1376.0,1020.4 L1378.0,1020.4 L1380.0,1020.4 L1382.0,1020.4 L1384.0,1020.3 L1386.0,1020.3 L1388.0,1020.3 L1390.0,1020.3 L1392.0,1020.3 L1394.0,1020.3 L1396.0,1020.3 L1398.0,1020.3 L1400.0,1020.3 L1402.0,1020.3 L1404.0,1020.3 L1406.0,1020.3 L1408.0,1020.3 L1410.0,1020.3 L1412.0,1020.3 L1414.0,1020.3 L1416.0,1020.3 L1418.0,1020.3 L1420.0,1020.4 L1422.0,1020.4 L1424.0,1020.4 L1426.0,1020.4 L1428.0,1020.4 L1430.0,1020.4 L1432.0,1020.5 L1434.0,1020.5 L1436.0,1020.5 L1438.0,1020.5 L1440.0,1020.6 L1442.0,1020.6 L1444.0,1020.6 L1446.0,1020.7 L1448.0,1020.7 L1450.0,1020.8 L1452.0,1020.8 L1454.0,1020.9 L1456.0,1020.9 L1458.0,1021.0 L1460.0,1021.0 L1462.0,1021.1 L1464.0,1021.1 L1466.0,1021.2 L1468.0,1021.2 L1470.0,1021.3 L1472.0,1021.4 L1474.0,1021.4 L1476.0,1021.5" fill="none" stroke="#00f" stroke-width="11" stroke-linejoin="round" stroke-linecap="butt"/>
<path d="M338.42,900.61 A52.75,58.45 0 0 1 239.28,940.59 A52.75,58.45 0 0 1 338.42,900.61" pathLength="360" fill="none" stroke="#f00" stroke-width="6.5" stroke-dasharray="47 20.75 21 20.75 21 20.75 21 20.75 21 20.75 21 20.75 21 20.75 21 20.75"/>
<path d="M546.66,915.83 A54.55,56.35 0 0 1 444.14,954.37 A54.55,56.35 0 0 1 546.66,915.83" pathLength="360" fill="none" stroke="#f00" stroke-width="6.5" stroke-dasharray="47 20.75 21 20.75 21 20.75 21 20.75 21 20.75 21 20.75 21 20.75 21 20.75"/>
<path d="M602.11,555.83 A54.55,56.35 0 0 1 499.59,594.37 A54.55,56.35 0 0 1 602.11,555.83" pathLength="360" fill="none" stroke="#f00" stroke-width="6.5" stroke-dasharray="47 20.75 21 20.75 21 20.75 21 20.75 21 20.75 21 20.75 21 20.75 21 20.75"/>
</svg></body></html>
